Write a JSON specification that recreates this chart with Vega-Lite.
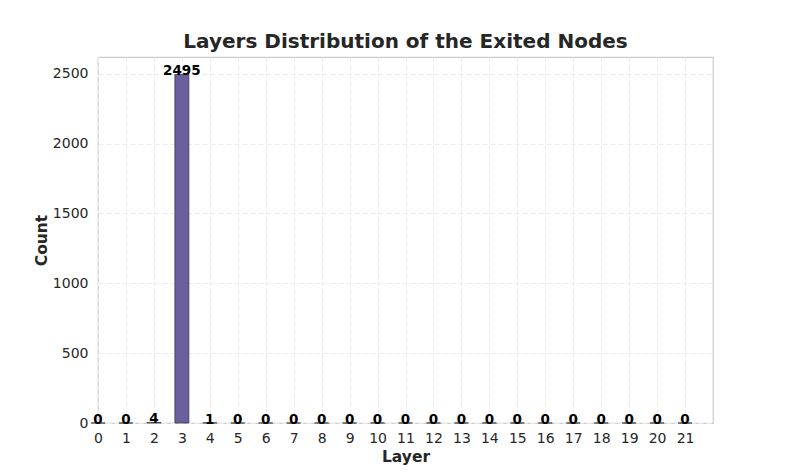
{
  "$schema": "https://vega.github.io/schema/vega-lite/v6.json",
  "width": 615,
  "height": 366,
  "autosize": {"type": "none"},
  "padding": {"left": 98, "top": 57, "right": 80, "bottom": 53},
  "background": "white",
  "title": {
    "text": "Layers Distribution of the Exited Nodes",
    "font": "DejaVu Sans",
    "fontSize": 20,
    "fontWeight": "bold",
    "color": "#262626",
    "anchor": "middle",
    "offset": 5
  },
  "config": {
    "view": {"stroke": "#cccccc", "strokeWidth": 1.25},
    "font": "DejaVu Sans"
  },
  "data": {
    "values": [
      {"layer": 0, "count": 0},
      {"layer": 1, "count": 0},
      {"layer": 2, "count": 4},
      {"layer": 3, "count": 2495},
      {"layer": 4, "count": 1},
      {"layer": 5, "count": 0},
      {"layer": 6, "count": 0},
      {"layer": 7, "count": 0},
      {"layer": 8, "count": 0},
      {"layer": 9, "count": 0},
      {"layer": 10, "count": 0},
      {"layer": 11, "count": 0},
      {"layer": 12, "count": 0},
      {"layer": 13, "count": 0},
      {"layer": 14, "count": 0},
      {"layer": 15, "count": 0},
      {"layer": 16, "count": 0},
      {"layer": 17, "count": 0},
      {"layer": 18, "count": 0},
      {"layer": 19, "count": 0},
      {"layer": 20, "count": 0},
      {"layer": 21, "count": 0}
    ]
  },
  "encoding": {
    "x": {
      "field": "layer",
      "type": "quantitative",
      "scale": {"domain": [0, 22], "nice": false, "zero": false, "padding": 0},
      "axis": {
        "title": "Layer",
        "values": [0,1,2,3,4,5,6,7,8,9,10,11,12,13,14,15,16,17,18,19,20,21],
        "format": "d",
        "domain": false,
        "ticks": false,
        "labelPadding": 8,
        "labelFontSize": 14,
        "labelColor": "#262626",
        "labelFlush": false,
        "labelOverlap": false,
        "titleFontSize": 15.5,
        "titleFontWeight": "bold",
        "titleColor": "#262626",
        "titlePadding": 4,
        "grid": true,
        "gridColor": "#ebebeb",
        "gridDash": [5, 3],
        "gridWidth": 1
      }
    },
    "y": {
      "field": "count",
      "type": "quantitative",
      "scale": {"domain": [0, 2620], "nice": false, "padding": 0},
      "axis": {
        "title": "Count",
        "values": [0, 500, 1000, 1500, 2000, 2500],
        "format": "d",
        "domain": false,
        "ticks": false,
        "labelPadding": 10,
        "labelFontSize": 14,
        "labelColor": "#262626",
        "labelFlush": false,
        "titleFontSize": 15.5,
        "titleFontWeight": "bold",
        "titleColor": "#262626",
        "titlePadding": 3,
        "grid": true,
        "gridColor": "#ebebeb",
        "gridDash": [5, 3],
        "gridWidth": 1
      }
    }
  },
  "layer": [
    {
      "mark": {"type": "bar", "width": 14, "fill": "#6b5f9e", "stroke": "#3d3d4a", "strokeWidth": 0.8}
    },
    {
      "mark": {"type": "text", "baseline": "alphabetic", "dy": 1, "fontSize": 13.5, "fontWeight": "bold", "color": "black"},
      "encoding": {
        "text": {"field": "count", "type": "quantitative"}
      }
    }
  ]
}
